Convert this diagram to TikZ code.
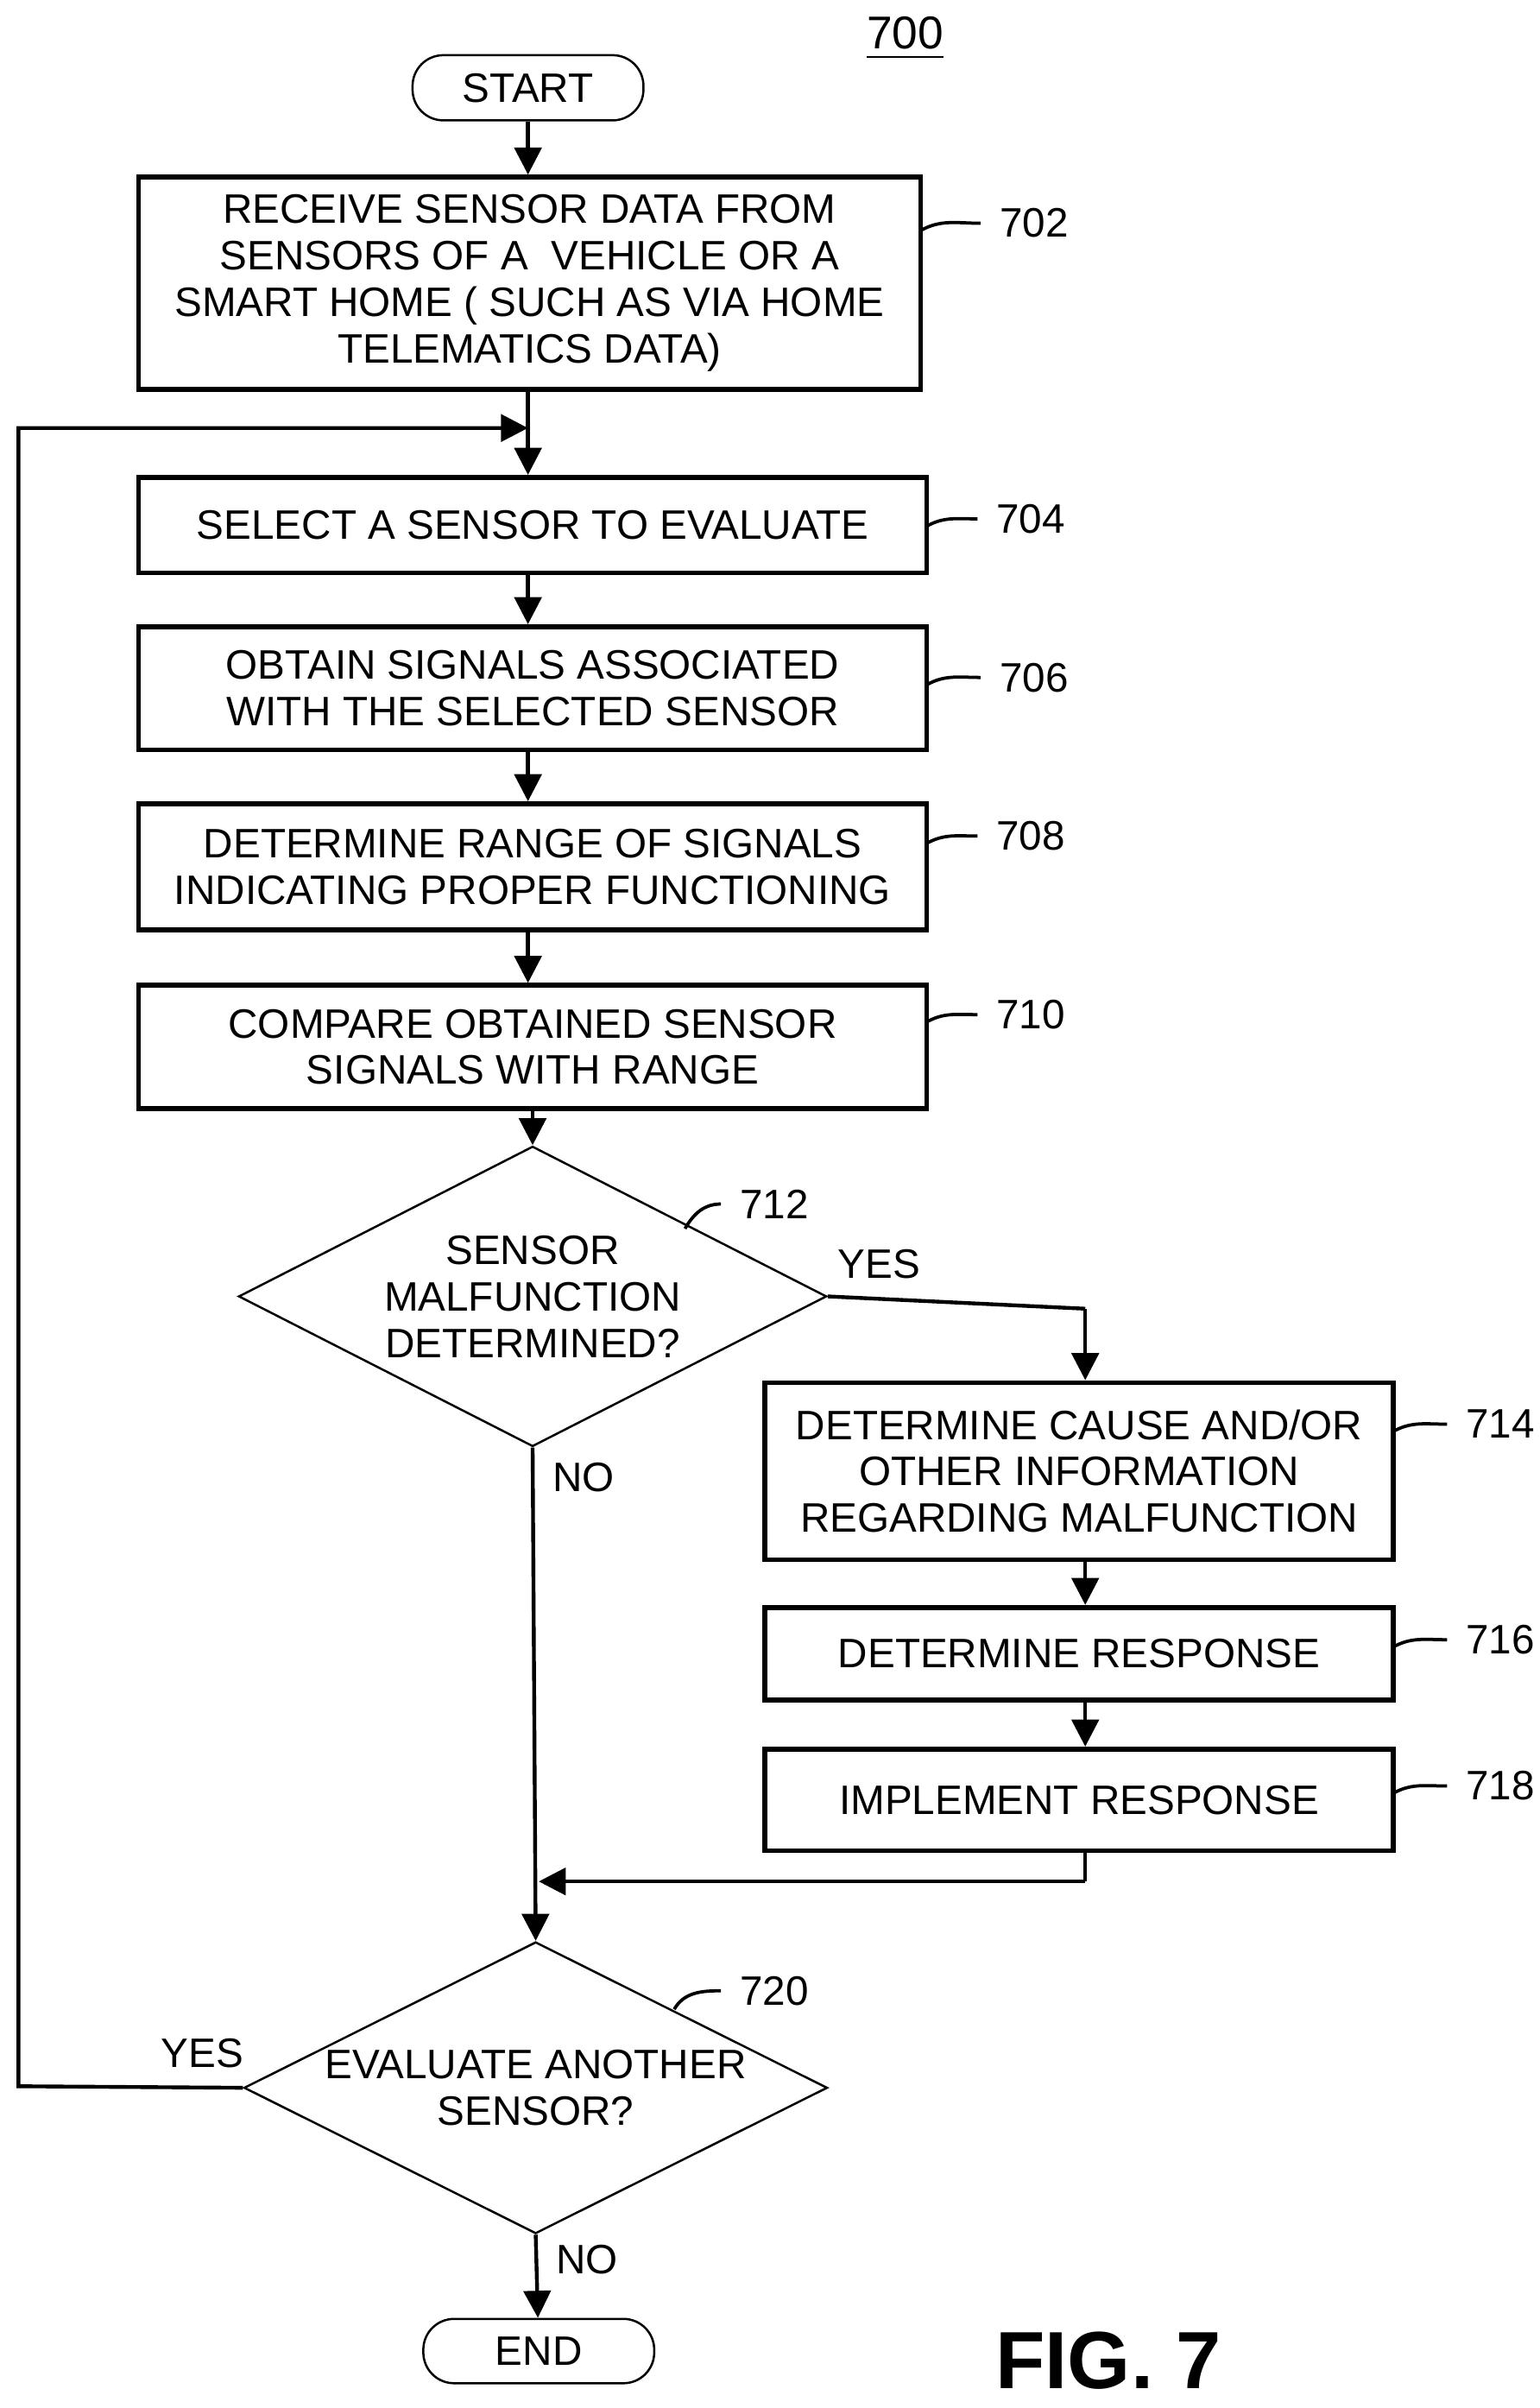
\documentclass[tikz,border=0pt]{standalone}
\usepackage{fontspec}
\setmainfont{Liberation Sans}
\usetikzlibrary{shapes.geometric,arrows.meta}
\tikzset{
  every node/.style={font=\fontsize{7.6}{8.6}\selectfont},
  box/.style={draw,line width=0.9pt,align=center,inner sep=1pt},
  term/.style={draw,rounded corners=0.2cm,minimum width=1.5cm,minimum height=0.4cm},
  dec/.style={draw,diamond,aspect=1.95,align=center,inner sep=0pt},
  arr/.style={-{Triangle[length=5pt,width=5pt]},line width=0.7pt},
  lead/.style={line width=0.6pt}
}
\begin{document}
\begin{tikzpicture}
  \useasboundingbox (0,0) rectangle (10,-15.64);
  \node[term] (start) at (3.43,-0.57) {START};
  \node[font=\fontsize{8.5}{10}\selectfont] at (5.88,-0.25) {\underline{700}};
  \node[box,minimum width=5.08cm,minimum height=1.38cm] (s702) at (3.44,-1.84)
    {RECEIVE SENSOR DATA FROM\\SENSORS OF A \ VEHICLE OR A\\SMART HOME ( SUCH AS VIA HOME\\TELEMATICS DATA)};
  \node[box,minimum width=5.12cm,minimum height=0.62cm] (s704) at (3.46,-3.41) {SELECT A SENSOR TO EVALUATE};
  \node[box,minimum width=5.12cm,minimum height=0.8cm] (s706) at (3.46,-4.47) {OBTAIN SIGNALS ASSOCIATED\\WITH THE SELECTED SENSOR};
  \node[box,minimum width=5.12cm,minimum height=0.82cm] (s708) at (3.46,-5.63) {DETERMINE RANGE OF SIGNALS\\INDICATING PROPER FUNCTIONING};
  \node[box,minimum width=5.12cm,minimum height=0.8cm] (s710) at (3.46,-6.80) {COMPARE OBTAINED SENSOR\\SIGNALS WITH RANGE};
  \node[dec,minimum width=3.82cm,minimum height=1.95cm] (s712) at (3.46,-8.42) {SENSOR\\MALFUNCTION\\DETERMINED?};
  \node[box,minimum width=4.08cm,minimum height=1.15cm] (s714) at (7.01,-9.555) {DETERMINE CAUSE AND/OR\\OTHER INFORMATION\\REGARDING MALFUNCTION};
  \node[box,minimum width=4.08cm,minimum height=0.6cm] (s716) at (7.01,-10.74) {DETERMINE RESPONSE};
  \node[box,minimum width=4.08cm,minimum height=0.66cm] (s718) at (7.01,-11.69) {IMPLEMENT RESPONSE};
  \node[dec,minimum width=3.79cm,minimum height=1.68cm] (s720) at (3.48,-13.56) {EVALUATE ANOTHER\\SENSOR?};
  \node[term] (end) at (3.50,-15.27) {END};
  \node[font=\bfseries\fontsize{15}{18}\selectfont] at (7.20,-15.33) {FIG. 7};
  % step numbers
  \foreach \n/\x/\y in {702/6.62/-1.45,704/6.60/-3.37,706/6.62/-4.40,708/6.60/-5.43,710/6.60/-6.59,714/9.65/-9.25,716/9.65/-10.65,718/9.65/-11.60}
    \node[anchor=west] (l\n) at (\x-0.25,\y) {\n};
  \foreach \n in {702,704,706,708,710,714,716,718}
    \draw[lead] (s\n.north east |- l\n.west) ++(-0.02,-0.05) to[out=30,in=180] (l\n.west);
  \node (l712) at (5.03,-7.82) {712};
  \draw[lead] (4.45,-7.98) to[out=60,in=180] (l712.west);
  \node (l720) at (5.03,-12.93) {720};
  \draw[lead] (4.38,-13.05) to[out=60,in=180] (l720.west);
  % coordinates for connectors
  \coordinate (j704) at (3.43,-2.78);
  \coordinate (k712) at (7.05,-8.50);
  \coordinate (k718) at (7.05,-12.22);
  \coordinate (j720) at (3.50,-12.22);
  \coordinate (w720) at (0.12,-13.55);
  \coordinate (t720) at (0.12,-2.78);
  % connectors
  \draw[arr] (start) -- (s702.north -| start);
  \draw[arr] (s702.south -| start) -- (s704.north -| start);
  \draw[arr] (s704.south -| start) -- (s706.north -| start);
  \draw[arr] (s706.south -| start) -- (s708.north -| start);
  \draw[arr] (s708.south -| start) -- (s710.north -| start);
  \draw[arr] (s710.south -| s712) -- (s712.north);
  \draw[line width=0.7pt] (s712.east) -- node[above,pos=0.2] {YES} (k712);
  \draw[arr] (k712) -- (s714.north -| k712);
  \draw[arr] (s714.south -| k712) -- (s716.north -| k712);
  \draw[arr] (s716.south -| k712) -- (s718.north -| k712);
  \draw[line width=0.7pt] (s718.south -| k718) -- (k718);
  \draw[arr] (k718) -- (j720);
  \draw[arr] (s712.south) -- node[pos=0.06,right] {NO} (s720.north);
  \draw[arr] (s720.west) -- node[above,pos=0.18] {YES} (w720) -- (t720) -- (j704);
  \draw[arr] (s720.south) -- node[pos=0.3,right] {NO} (end);
\end{tikzpicture}
\end{document}
